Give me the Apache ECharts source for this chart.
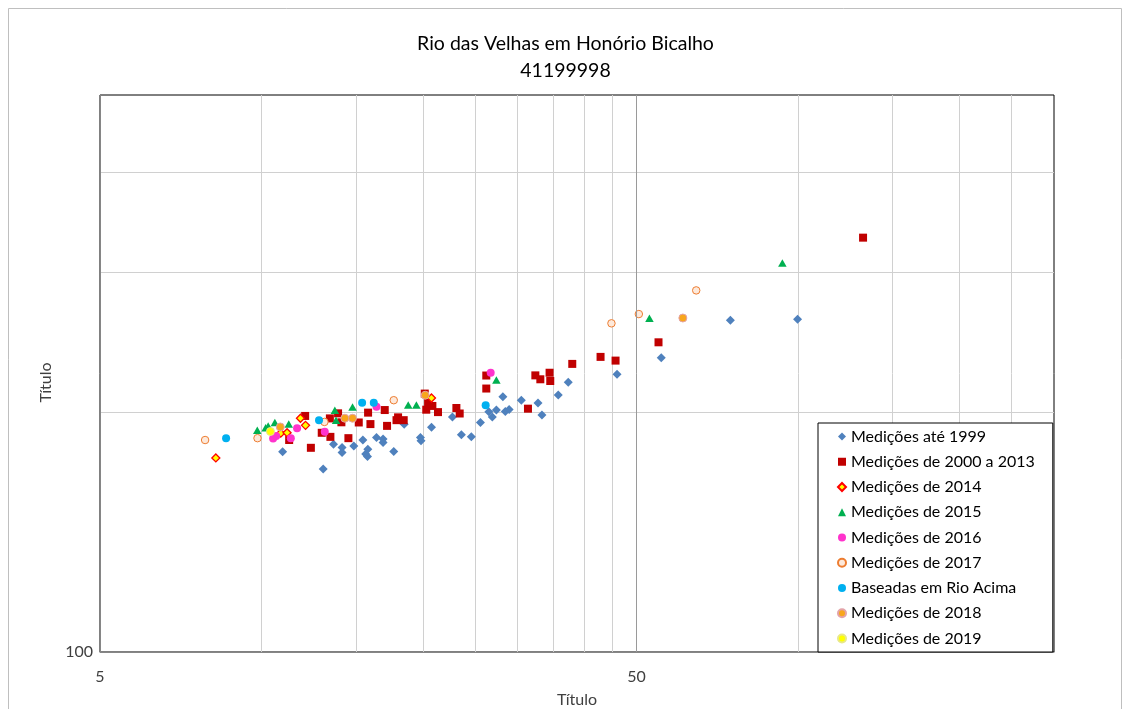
<!DOCTYPE html>
<html>
<head>
<meta charset="utf-8">
<title>Rio das Velhas em Honório Bicalho</title>
<script src="https://cdn.jsdelivr.net/npm/echarts@6.0.0/dist/echarts.min.js"></script>
<style>
  html, body { margin: 0; padding: 0; background: #fff; }
  #chart { width: 1131px; height: 709px; }
</style>
</head>
<body>
<div id="chart"></div>
<script>
// pontos: [vazão, título]
const ate1999 = [
  [10.95, 178.4], [13.03, 169.7], [13.62, 182.3], [14.13, 180.5], [14.13, 178.0],
  [14.86, 181.4], [15.45, 184.5], [15.64, 177.2], [15.78, 179.7], [15.76, 175.9],
  [16.38, 185.8], [16.85, 185.0], [16.85, 183.2], [17.64, 178.5], [18.45, 193.1],
  [19.78, 185.8], [19.83, 184.1], [20.74, 191.4], [22.69, 197.2], [23.58, 187.3],
  [24.61, 186.2], [25.59, 194.1], [26.53, 200.2], [26.93, 197.2], [27.40, 201.2],
  [28.18, 209.1], [28.47, 200.3], [28.94, 201.5], [30.50, 207.0], [32.76, 205.4],
  [33.32, 198.4], [35.74, 210.1], [37.30, 218.0], [45.99, 223.1], [55.6, 234.0],
  [74.8, 260.8], [99.8, 261.5]
];
const de2000a2013 = [
  [11.26, 184.5], [12.06, 197.8], [12.36, 180.4], [12.95, 188.4], [13.44, 186.2],
  [13.41, 196.4], [13.89, 199.3], [14.09, 194.2], [14.52, 185.5], [15.18, 194.1],
  [15.80, 199.7], [15.96, 193.2], [16.97, 201.2], [17.14, 192.2], [17.97, 197.0],
  [18.41, 195.4], [17.85, 195.4], [20.15, 211.0], [20.28, 201.4], [20.44, 205.6],
  [20.82, 203.6], [21.33, 200.0], [23.08, 202.4], [23.41, 199.2], [26.24, 222.3],
  [26.24, 214.1], [31.38, 202.0], [32.39, 222.4], [33.09, 219.9], [34.43, 224.1],
  [34.53, 218.8], [37.95, 229.9], [42.85, 234.6], [45.70, 232.1], [54.95, 244.7],
  [132.2, 331.1]
];
const de2014 = [[8.22, 175.2], [10.86, 188.2], [11.16, 188.4], [11.82, 196.5], [12.08, 192.5], [20.74, 208.3]];
const de2015 = [
  [9.82, 189.8], [10.18, 191.2], [10.29, 192.2], [10.59, 194.1], [11.24, 193.3],
  [13.70, 201.1], [14.78, 203.0], [13.77, 195.3], [18.77, 204.1], [19.44, 204.1],
  [27.40, 219.4], [52.85, 262.3], [93.5, 307.7]
];
const de2016 = [[10.51, 185.3], [10.65, 186.6], [11.34, 185.5], [11.65, 190.9], [13.12, 189.0], [16.38, 203.1], [26.74, 224.1]];
const de2017 = [[7.85, 184.5], [9.83, 185.5], [13.10, 194.4], [17.64, 207.0], [44.9, 258.5], [50.5, 265.5], [64.6, 284.3]];
const rioAcima = [[8.59, 185.5], [12.80, 195.4], [15.40, 205.5], [16.19, 205.5], [26.17, 204.0]];
const de2018 = [[10.84, 191.6], [14.30, 196.5], [14.78, 196.5], [20.19, 210.0], [61.0, 262.5]];
const de2019 = [[10.39, 189.1]];

const seriesNames = [
  "Medições até 1999", "Medições de 2000 a 2013", "Medições de 2014",
  "Medições de 2015", "Medições de 2016", "Medições de 2017",
  "Baseadas em Rio Acima", "Medições de 2018", "Medições de 2019"
];
const titleLines = ["Rio das Velhas em Honório Bicalho", "41199998"];
const xGridValues = [10, 15, 20, 25, 30, 35, 40, 45, 50, 100, 150, 200, 250];
const yGridValues = [200, 300, 400];
const xTickLabels = [5, 50];
const yTickLabels = [100];

const FONT = "Lato";
const chart = echarts.init(document.getElementById("chart"));

const scatter = (name, data, symbol, size, itemStyle) => ({
  name,
  type: "scatter",
  data,
  symbol,
  symbolSize: size,
  itemStyle: { opacity: 1, ...itemStyle },
  emphasis: { disabled: true },
});

const series = [
  scatter(seriesNames[0], ate1999, "diamond", 9, { color: "#4F81BD" }),
  scatter(seriesNames[1], de2000a2013, "rect", 8, { color: "#C00000" }),
  scatter(seriesNames[2], de2014, "diamond", 8, { color: "#FFFF00", borderColor: "#FF0000", borderWidth: 1.3 }),
  scatter(seriesNames[3], de2015, "triangle", [8.5, 7.5], { color: "#00B050" }),
  scatter(seriesNames[4], de2016, "circle", 8, { color: "#FF33CC" }),
  scatter(seriesNames[5], de2017, "circle", 7.5, { color: "#FDE9DB", borderColor: "#ED7D31", borderWidth: 1 }),
  scatter(seriesNames[6], rioAcima, "circle", 8, { color: "#00B0F0" }),
  scatter(seriesNames[7], de2018, "circle", 8, { color: "#F8A61C", borderColor: "#E3A3A8", borderWidth: 1 }),
  scatter(seriesNames[8], de2019, "circle", 8, { color: "#FFFF00", borderColor: "#E8E88A", borderWidth: 1 }),
];

// linha de grade principal (50) mais escura
series[0].markLine = {
  silent: true,
  symbol: "none",
  label: { show: false },
  lineStyle: { color: "#9a9a9a", width: 1, type: "solid" },
  data: [{ xAxis: 50 }],
};

chart.setOption({
  animation: false,
  title: {
    text: titleLines.join("\n"),
    left: "center",
    top: 30,
    padding: 0,
    textStyle: { fontFamily: FONT, fontSize: 19.5, fontWeight: "normal", color: "#000", lineHeight: 27 },
  },
  grid: {
    left: 100, right: 77, top: 95, bottom: 57,
    outerBoundsMode: "none",
    show: true, borderColor: "#000", borderWidth: 1,
  },
  legend: {
    orient: "vertical",
    left: 818,
    top: 423,
    itemWidth: 8,
    itemHeight: 8,
    itemGap: 9.25,
    padding: [5.5, 18, 5.5, 19],
    backgroundColor: "#fff",
    borderColor: "#000",
    borderWidth: 1,
    textStyle: { fontFamily: FONT, fontSize: 16, color: "#000" },
    data: seriesNames,
  },
  xAxis: {
    type: "log",
    logBase: 10,
    min: 5,
    max: 300,
    name: "Título",
    nameLocation: "middle",
    nameGap: 40,
    nameTextStyle: { fontFamily: FONT, fontSize: 16, color: "#404040" },
    axisLine: { show: true, onZero: false, lineStyle: { color: "#868686" } },
    axisTick: { show: false, customValues: xGridValues },
    axisLabel: { customValues: xTickLabels, margin: 17, fontFamily: FONT, fontSize: 16, color: "#404040" },
    splitLine: { show: true, lineStyle: { color: "#d0d0d0", width: 1 } },
  },
  yAxis: {
    type: "log",
    logBase: 10,
    min: 100,
    max: 500,
    name: "Título",
    nameLocation: "middle",
    nameGap: 46,
    nameTextStyle: { fontFamily: FONT, fontSize: 16, color: "#404040", padding: [0, 18, 0, 0] },
    axisLine: { show: true, onZero: false, lineStyle: { color: "#868686" } },
    axisTick: { show: false, customValues: yGridValues },
    axisLabel: { customValues: yTickLabels, margin: 7, fontFamily: FONT, fontSize: 16, color: "#404040" },
    splitLine: { show: true, lineStyle: { color: "#d0d0d0", width: 1 } },
  },
  graphic: [{
    type: "rect",
    silent: true,
    z: -1,
    shape: { x: 8.5, y: 8.5, width: 1113, height: 720 },
    style: { fill: "none", stroke: "#bfbfbf", lineWidth: 1 },
  }],
  series,
});

window.addEventListener("resize", () => chart.resize());
</script>
</body>
</html>
